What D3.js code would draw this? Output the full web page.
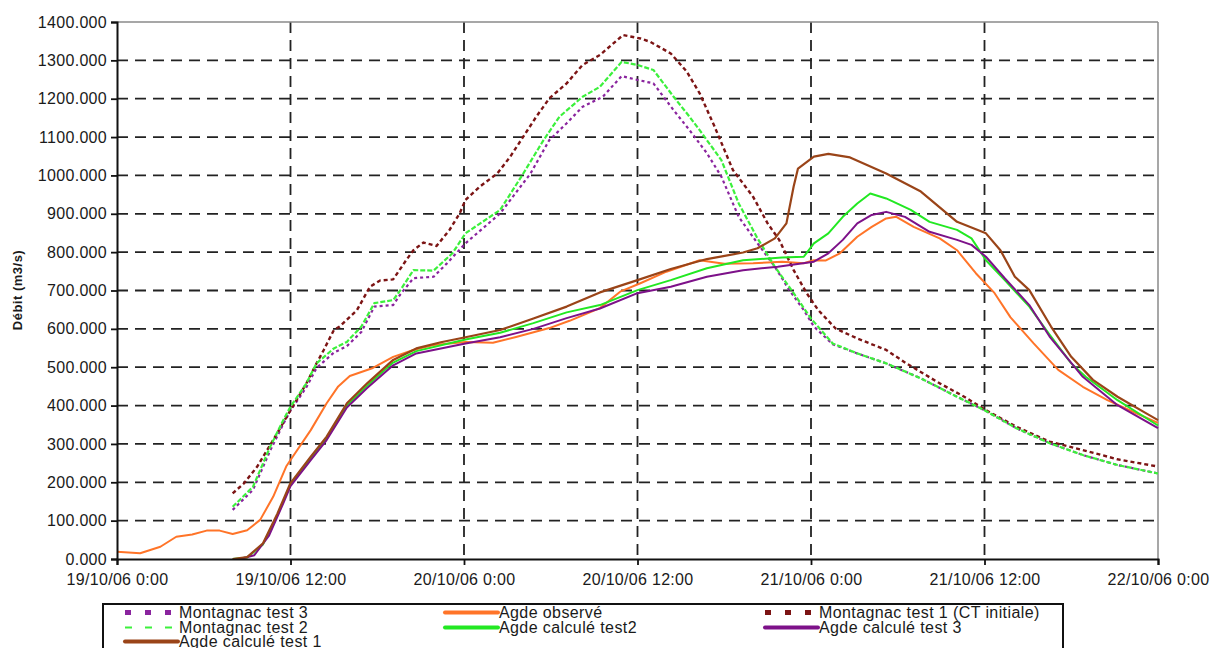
<!DOCTYPE html>
<html>
<head>
<meta charset="utf-8">
<script src="https://cdn.jsdelivr.net/npm/d3@7"></script>
<style>
  html, body { margin: 0; padding: 0; background: #fff; }
  svg text { font-family: "Liberation Sans", Arial, sans-serif; fill: #1a1a1a; }
</style>
</head>
<body>
<svg id="chart" width="1214" height="648"></svg>
<script>
// ---------- DATA (hours since 19/10/06 0:00, discharge m3/s) ----------
const yTicks = [0,100,200,300,400,500,600,700,800,900,1000,1100,1200,1300,1400];

const montagnac3Hours  = [8,9.4,10.6,11.5,12,13.1,13.8,15,15.9,16.9,17.8,19.1,19.6,20.5,21.9,22.8,24.1,26.5,28.6,29.9,31.1,32.2,33.6,34.9,36,37.1,38.5,39.6,40.8,41.8,43,44.3,45.5,46.5,47.5,48.2,49.5,51.2,53.2,55.6,58.1,60,62.2,64.5,66.8,69.2,72];
const montagnac3Values = [128,180,283,352,387,448,498,538,555,592,658,662,690,732,736,770,823,901,1005,1092,1136,1179,1205,1259,1249,1240,1170,1118,1058,997,892,823,762,701,649,606,560,536,510,471,423,388,341,302,271,245,223];

const agdeObsHours  = [0,1.6,3,4.1,5.2,6.2,7.1,8,9,9.9,10.8,11.7,12,13.4,14.5,15.3,16.1,17.7,19.1,20.5,21.9,24.1,26,27.6,29.9,31.3,33.4,34.8,36.2,38,40.3,42,44,46,47.5,48.2,49,50,51.2,52.2,53.2,53.9,55.1,56.9,58.1,59.4,60.7,61.8,63.4,65.1,66.8,68.5,70.5,72];
const agdeObsValues = [19,15,32,58,64,74,74,65,75,102,162,241,258,336,406,450,477,498,527,545,558,566,564,579,602,621,654,697,719,749,779,770,771,775,771,779,778,797,840,866,888,892,866,836,805,745,693,630,562,493,449,414,380,355];

const montagnac1Hours  = [8,8.8,9.7,10.8,12,13.1,13.8,14.3,15,15.4,16.6,17.5,18.2,19.1,20,20.5,21.2,22.1,23,23.7,24.1,25.1,26.3,27.2,28.1,29,29.9,31.1,32.2,33.4,35,36.2,36.9,38.3,39.4,40.3,41.3,42.6,44,45,45.8,46.8,47.7,48.5,49.7,51.2,53.2,54.6,56.9,58.6,60.1,62.2,64.5,66.8,69.2,72];
const montagnac1Values = [171,198,241,310,388,458,510,545,597,606,649,710,726,729,779,805,825,816,858,901,936,971,1005,1049,1101,1153,1201,1240,1288,1314,1366,1357,1348,1318,1271,1214,1130,1014,944,875,832,753,693,649,601,575,545,510,458,423,388,345,306,284,260,241];

const montagnac2Hours  = [8,9.4,10.6,11.5,12,13.1,13.8,15,15.9,16.9,17.8,19.1,19.6,20.5,21.9,23.2,24.1,26.5,28.1,29.5,30.6,32.2,33.4,34.9,36,37.1,38.5,39.6,40.3,41.8,43,44.3,45.5,46.8,48,49.5,51.2,53.2,55.6,58.1,60,62.2,64.5,66.8,69.2,72];
const montagnac2Values = [136,188,293,362,397,458,510,549,566,606,667,675,701,753,752,797,849,910,1005,1092,1153,1205,1231,1296,1288,1275,1205,1153,1118,1040,927,836,762,693,627,562,536,510,471,423,388,341,302,271,245,223];

const agdeT2Hours  = [8,9,10.1,11.1,12,13.4,14.5,15.9,17.3,19.1,20.7,24.1,26.5,28.8,31.1,33.4,36,38.3,40.8,43.3,46,47.5,48.2,49.2,50.2,51.2,52.1,53.2,54.9,56.2,58.1,59.1,60.1,61.4,63.1,64.5,66,67,69.2,72];
const agdeT2Values = [0,4,38,115,194,263,314,400,452,512,542,572,590,615,643,662,701,727,758,779,786,788,823,849,892,927,953,940,910,879,858,836,779,727,658,585,510,475,414,348];

const agdeT3Hours  = [8.5,9.5,10.5,11.5,12,13.4,14.5,15.9,17.3,19.1,20.7,24.1,26.5,28.8,31.1,33.4,36,38.3,40.8,43.3,45.7,48.2,49.2,50.2,51.2,52.2,53.2,54.5,56.2,58.1,59.1,60.1,61.4,63.1,64.5,66.8,69.2,72];
const agdeT3Values = [0,10,60,145,190,258,310,395,446,505,536,562,578,600,628,653,693,710,736,753,762,775,797,832,875,897,905,892,853,832,819,788,732,662,580,475,401,341];

const agdeT1Hours  = [8,9,10.1,11.1,12,13.4,14.5,15.9,17.3,19.1,20.7,22.4,24.1,26.5,28.8,31.1,33.4,36,38.3,40.8,43.3,44.3,45.5,46.3,46.8,47.1,48.2,49.2,50.7,53.2,55.6,58.1,60.1,61.1,62.1,63.1,64.6,66,67.5,69.2,71.4,72];
const agdeT1Values = [0,5,41,119,198,267,319,406,458,519,549,565,578,597,627,658,695,727,756,782,799,810,836,875,971,1018,1049,1056,1047,1005,958,879,849,805,736,701,606,527,467,423,375,362];

const seriesNames = ["Montagnac test 3","Agde observé","Montagnac test 1 (CT initiale)","Montagnac test 2","Agde calculé test2","Agde calculé test 3","Agde calculé test 1"];

// ---------- BUILD ----------
const series = [
  {name: seriesNames[0], h: montagnac3Hours, v: montagnac3Values, color: "#8a249e", w: 2.2, dash: "3,3", leg: "sq"},
  {name: seriesNames[1], h: agdeObsHours,    v: agdeObsValues,    color: "#ff7428", w: 2,   dash: null, leg: "line"},
  {name: seriesNames[2], h: montagnac1Hours, v: montagnac1Values, color: "#7c1414", w: 2.4, dash: "4,3", leg: "sq"},
  {name: seriesNames[3], h: montagnac2Hours, v: montagnac2Values, color: "#3cf03c", w: 2.2, dash: "5,2", leg: "dash"},
  {name: seriesNames[4], h: agdeT2Hours,     v: agdeT2Values,     color: "#22e822", w: 2,   dash: null, leg: "line"},
  {name: seriesNames[5], h: agdeT3Hours,     v: agdeT3Values,     color: "#7d1189", w: 2,   dash: null, leg: "line"},
  {name: seriesNames[6], h: agdeT1Hours,     v: agdeT1Values,     color: "#9a4418", w: 2.2, dash: null, leg: "line"}
];

const t0 = new Date(2006, 9, 19, 0, 0);
const t1 = new Date(2006, 9, 22, 0, 0);
const toDate = h => new Date(t0.getTime() + h * 3600e3);

const L = 117, R = 1158, T = 22, B = 559;
const svg = d3.select("#chart");
const x = d3.scaleTime().domain([t0, t1]).range([L, R]);
const y = d3.scaleLinear().domain([0, 1400]).range([B, T]);
const xTickVals = d3.timeHour.every(12).range(t0, new Date(t1.getTime() + 1));
const fmt = d3.timeFormat("%d/%m/%y %-H:%M");

// grid
const grid = svg.append("g");
grid.selectAll("line.h").data(yTicks.filter(d => d > 0 && d < 1400)).join("line")
  .attr("x1", L).attr("x2", R).attr("y1", d => y(d)).attr("y2", d => y(d))
  .attr("stroke", "#222").attr("stroke-width", 1.8).attr("stroke-dasharray", "11,7");
grid.selectAll("line.v").data(xTickVals.slice(1, -1)).join("line")
  .attr("x1", d => x(d)).attr("x2", d => x(d)).attr("y1", T).attr("y2", B)
  .attr("stroke", "#222").attr("stroke-width", 1.8).attr("stroke-dasharray", "11,7");

// frame top/right
svg.append("line").attr("x1", L).attr("x2", R).attr("y1", T).attr("y2", T).attr("stroke", "#8a8a8a").attr("stroke-width", 1.5);
svg.append("line").attr("x1", R).attr("x2", R).attr("y1", T).attr("y2", B).attr("stroke", "#8a8a8a").attr("stroke-width", 1.5);

// series
const line = d3.line().x(d => x(d[0])).y(d => y(d[1]));
series.forEach(s => {
  const pts = s.h.map((h, i) => [toDate(h), s.v[i]]);
  svg.append("path").datum(pts).attr("d", line)
    .attr("fill", "none").attr("stroke", s.color).attr("stroke-width", s.w)
    .attr("stroke-linejoin", "round")
    .attr("stroke-dasharray", s.dash);
});

// axes
const yAxis = d3.axisLeft(y).tickValues(yTicks).tickFormat(d3.format(".3f")).tickSize(6).tickPadding(4);
const gy = svg.append("g").attr("transform", `translate(${L},0)`).call(yAxis);
gy.select(".domain").attr("stroke", "#111").attr("stroke-width", 2);
gy.selectAll(".tick line").attr("stroke", "#111").attr("stroke-width", 1.8);
gy.selectAll(".tick text").attr("font-size", 16).attr("letter-spacing", "0.3px").attr("fill", "#1a1a1a");

const xAxis = d3.axisBottom(x).tickValues(xTickVals).tickFormat(fmt).tickSize(6).tickPadding(9);
const gx = svg.append("g").attr("transform", `translate(0,${B})`).call(xAxis);
gx.select(".domain").attr("stroke", "#111").attr("stroke-width", 2);
gx.selectAll(".tick line").attr("stroke", "#111").attr("stroke-width", 1.8);
gx.selectAll(".tick text").attr("font-size", 16).attr("letter-spacing", "0.3px").attr("fill", "#1a1a1a");

// y label
svg.append("text").attr("transform", "translate(22,290) rotate(-90)")
  .attr("text-anchor", "middle").attr("font-size", 13).attr("font-weight", "bold")
  .attr("letter-spacing", "0.5px").text("Débit (m3/s)");

// legend
const lg = svg.append("g");
lg.append("rect").attr("x", 103).attr("y", 604).attr("width", 960).attr("height", 60)
  .attr("fill", "#fff").attr("stroke", "#111").attr("stroke-width", 2);
const colX = [125, 445, 765];
const rowBase = [618, 633, 647];
// Excel fills legend row by row over 3 columns
series.forEach((s, i) => {
  const c = i % 3, r = Math.floor(i / 3);
  const x0 = colX[c], x1 = x0 + 53, yy = rowBase[r] - 5.5;
  const g = lg.append("g");
  if (s.leg === "line") {
    g.append("line").attr("x1", x0).attr("x2", x1).attr("y1", yy).attr("y2", yy)
      .attr("stroke", s.color).attr("stroke-width", 4).attr("stroke-linecap", "round");
  } else if (s.leg === "sq") {
    g.append("line").attr("x1", x0).attr("x2", x1).attr("y1", yy).attr("y2", yy)
      .attr("stroke", s.color).attr("stroke-width", 5).attr("stroke-dasharray", "6,14");
  } else {
    g.append("line").attr("x1", x0).attr("x2", x1).attr("y1", yy).attr("y2", yy)
      .attr("stroke", s.color).attr("stroke-width", 2).attr("stroke-dasharray", "7,13");
  }
  g.append("text").attr("x", x1 + 1).attr("y", rowBase[r]).attr("font-size", 16)
    .attr("letter-spacing", "0.4px").text(s.name);
});
</script>
</body>
</html>
